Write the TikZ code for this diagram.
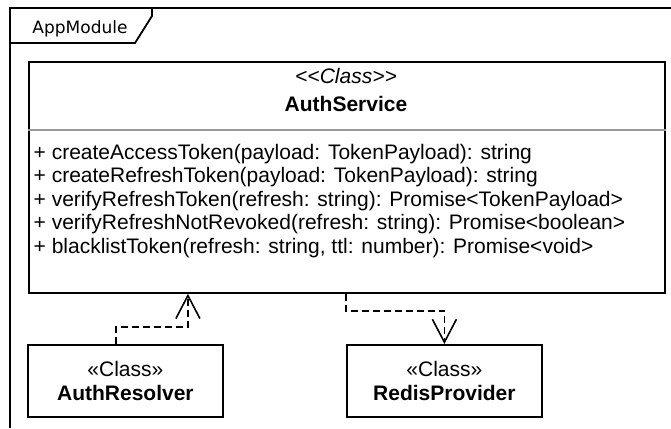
\documentclass[tikz,border=0pt]{standalone}
\usepackage{fontspec}
\setmainfont{Liberation Sans}
\newfontfamily\framefont{DejaVu Sans}
\usetikzlibrary{arrows.meta}

\tikzset{
  umlline/.style={line width=1.8pt, draw=black},
  classbox/.style={umlline, rectangle, inner sep=0pt, anchor=north west},
  txt/.style={inner sep=0pt, font=\fontsize{21}{24}\selectfont},
  member/.style={txt, anchor=base west},
  dep/.style={line width=1.6pt, dash pattern=on 7pt off 4pt,
    -{Straight Barb[length=23pt, width=24pt, line width=1.6pt]}},
}

\begin{document}
\begin{tikzpicture}[x=1pt, y=-1pt]
\useasboundingbox (0,0) rectangle (671,428);

% package frame with its name tab
\draw[umlline] (671,8) -- (10,8) -- (10,428);
\draw[umlline] (152,8) -- (152,16) -- (135,43) -- (10,43);
\node[inner sep=0pt, anchor=base, font=\framefont\fontsize{17}{20}\selectfont]
  (frame) at (80,34) {AppModule};

% AuthService class
\node[classbox, minimum width=636pt, minimum height=231pt] (as) at (28,61) {};
\draw[line width=1.4pt, draw=black!40] (as.west |- 0,130) -- (as.east |- 0,130);
\node[txt, anchor=base, font=\fontsize{21}{24}\selectfont\itshape]
  (asster) at (346,83.5) {<{}<Class>{}>};
\node[txt, anchor=base, font=\fontsize{21}{24}\selectfont\bfseries]
  (asname) at (346,111) {AuthService};
\node[member] (m1) at (33.5,159)   {+ createAccessToken(payload: TokenPayload): string};
\node[member] (m2) at (33.5,182.5) {+ createRefreshToken(payload: TokenPayload): string};
\node[member] (m3) at (33.5,206)   {+ verifyRefreshToken(refresh: string): Promise<TokenPayload>};
\node[member] (m4) at (33.5,229.5) {+ verifyRefreshNotRevoked(refresh: string): Promise<boolean>};
\node[member] (m5) at (33.5,253)   {+ blacklistToken(refresh: string, ttl: number): Promise<void>};

% dependent classes
\node[classbox, minimum width=195pt, minimum height=72pt] (ar) at (27,344) {};
\node[txt, anchor=base] (arster) at (ar.center |- 0,376.5) {«Class»};
\node[txt, anchor=base, font=\fontsize{21}{24}\selectfont\bfseries]
  (arname) at (ar.center |- 0,400) {AuthResolver};

\node[classbox, minimum width=195pt, minimum height=72pt] (rp) at (346,344) {};
\node[txt, anchor=base] (rpster) at (rp.center |- 0,376.5) {«Class»};
\node[txt, anchor=base, font=\fontsize{21}{24}\selectfont\bfseries]
  (rpname) at (rp.center |- 0,400) {RedisProvider};

% dependencies
\draw[dep] ([xshift=-9.5pt]ar.north) -- ++(0,-17) -| ([xshift=-159pt]as.south);
\draw[dep] ([xshift=-1pt]as.south) -- ++(0,17) -| (rp.north);
\end{tikzpicture}
\end{document}
